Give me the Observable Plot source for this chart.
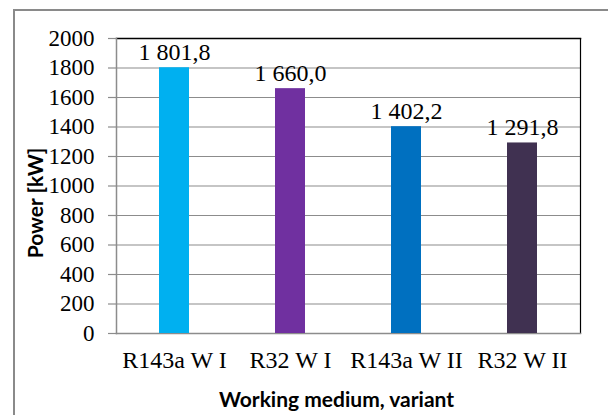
<!DOCTYPE html>
<html>
<head>
<meta charset="utf-8">
<script src="https://cdn.jsdelivr.net/npm/d3@7"></script>
<script src="https://cdn.jsdelivr.net/npm/@observablehq/plot@0.6"></script>
<style>
  html, body { margin: 0; padding: 0; background: #fff; overflow: hidden; }
  #wrap { position: relative; width: 608px; height: 415px; }
  #outer { position: absolute; left: 13px; top: 9px; width: 700px; height: 500px;
           border-left: 2px solid #8a8a8a; border-top: 2px solid #8a8a8a; }
  #chart { position: absolute; left: 0; top: 0; }
</style>
</head>
<body>
<div id="wrap"><div id="outer"></div><div id="chart"></div></div>
<script>
const categories = ["R143a W I", "R32 W I", "R143a W II", "R32 W II"];
const values = [1801.8, 1660.0, 1402.2, 1291.8];
const valueLabels = ["1 801,8", "1 660,0", "1 402,2", "1 291,8"];
const colors = ["#00B0F0", "#7030A0", "#0070C0", "#403151"];
const yTicks = [0, 200, 400, 600, 800, 1000, 1200, 1400, 1600, 1800, 2000];
const yTitle = "Power [kW]";
const xTitle = "Working medium, variant";

const data = categories.map((c, i) => ({cat: c, value: values[i], label: valueLabels[i]}));
const grid = "#8c8c8c";
const sans = "Lato, 'Open Sans', sans-serif";

const chart = Plot.plot({
  width: 608,
  height: 415,
  marginLeft: 116,
  marginRight: 28,
  marginTop: 38,
  marginBottom: 82,
  style: {fontFamily: "'Liberation Serif', serif", color: "black", background: "transparent", overflow: "visible"},
  x: {domain: categories, paddingInner: 0.74, paddingOuter: 0.37, label: null},
  y: {domain: [0, 2000], label: null},
  color: {domain: categories, range: colors},
  marks: [
    Plot.gridY(yTicks, {stroke: grid, strokeOpacity: 1, strokeWidth: 1.2}),
    Plot.frame({anchor: "top", stroke: "black", strokeWidth: 1.5}),
    Plot.frame({anchor: "right", stroke: "black", strokeWidth: 1.2}),
    Plot.frame({anchor: "left", stroke: grid, strokeWidth: 1.5}),
    Plot.frame({anchor: "bottom", stroke: grid, strokeWidth: 1.5}),
    Plot.axisY(yTicks, {tickSize: 8, tickPadding: 14, stroke: grid, strokeWidth: 1.2, fill: "black", fontSize: 23, label: null, tickFormat: d => String(d)}),
    Plot.axisX({tickSize: 0, tickPadding: 17, fill: "black", fontSize: 24, label: null}),
    Plot.barY(data, {x: "cat", y: "value", fill: "cat"}),
    Plot.text(data, {x: "cat", y: "value", text: "label", dy: -8, lineAnchor: "bottom", fontSize: 24, fill: "black"}),
    Plot.text([yTitle], {frameAnchor: "left", textAnchor: "middle", lineAnchor: "middle", dx: -80, dy: 17, rotate: -90, fontFamily: sans, fontWeight: "bold", fontSize: 21, fill: "black"}),
    Plot.text([xTitle], {frameAnchor: "bottom", textAnchor: "middle", dx: -12, dy: 73, fontFamily: sans, fontWeight: "bold", fontSize: 21, fill: "black"})
  ]
});
document.getElementById("chart").appendChild(chart);
</script>
</body>
</html>
